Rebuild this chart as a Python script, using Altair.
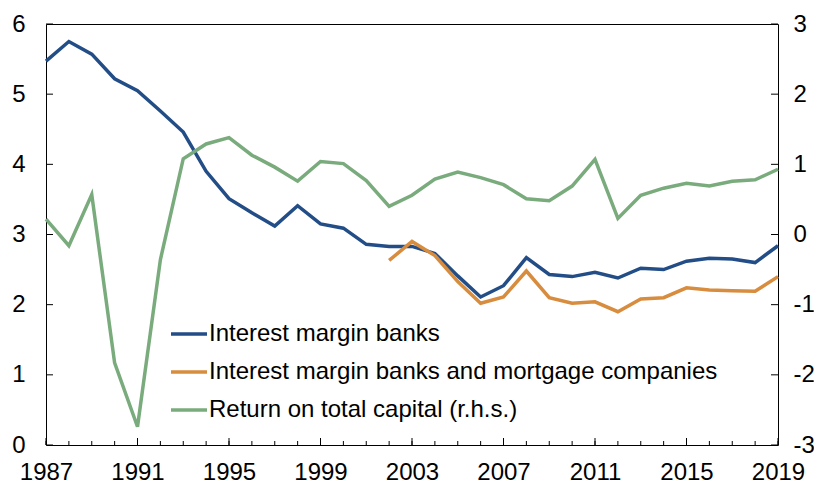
import altair as alt
import pandas as pd

years = list(range(1987, 2020))
names = [
    "Interest margin banks",
    "Interest margin banks and mortgage companies",
    "Return on total capital (r.h.s.)",
]
colors = ["#224d86", "#d88c3e", "#7aab7d"]

margin_banks = [5.47, 5.75, 5.57, 5.22, 5.05, 4.76, 4.46, 3.90, 3.51, 3.31, 3.12,
                3.41, 3.15, 3.09, 2.86, 2.83, 2.83, 2.73, 2.41, 2.11, 2.27, 2.67,
                2.43, 2.40, 2.46, 2.38, 2.52, 2.50, 2.62, 2.66, 2.65, 2.60, 2.84]
years_mortgage = list(range(2002, 2020))
margin_mortgage = [2.63, 2.90, 2.70, 2.33, 2.02, 2.11, 2.48, 2.10, 2.02, 2.04,
                   1.90, 2.08, 2.10, 2.24, 2.21, 2.20, 2.19, 2.40]
return_capital = [0.22, -0.16, 0.57, -1.83, -2.74, -0.36, 1.08, 1.29, 1.38, 1.13,
                  0.96, 0.76, 1.04, 1.01, 0.77, 0.40, 0.56, 0.79, 0.89, 0.81, 0.71,
                  0.51, 0.48, 0.69, 1.07, 0.23, 0.56, 0.66, 0.73, 0.69, 0.76, 0.78, 0.93]

x_labels = list(range(1987, 2020, 4))
left_ticks = [0, 1, 2, 3, 4, 5, 6]
right_ticks = [-3, -2, -1, 0, 1, 2, 3]

W, H = 732, 421
FONT = "Liberation Sans"

df_left = pd.concat([
    pd.DataFrame({"year": years, "value": margin_banks, "series": names[0]}),
    pd.DataFrame({"year": years_mortgage, "value": margin_mortgage, "series": names[1]}),
])
df_right = pd.DataFrame({"year": years, "value": return_capital, "series": names[2]})

xscale = alt.Scale(domain=[1987, 2019], nice=False, zero=False)
lscale = alt.Scale(domain=[0, 6], nice=False, zero=False)
rscale = alt.Scale(domain=[-3, 3], nice=False, zero=False)
cscale = alt.Scale(domain=names, range=colors)

xaxis = alt.Axis(values=x_labels, format="d", ticks=False, domain=False, grid=False,
                 labelFlush=False, labelOverlap=False, labelPadding=15, title=None)
laxis = alt.Axis(values=left_ticks, orient="left", ticks=False, domain=False, grid=False,
                 labelPadding=21, title=None, labelOverlap=False)
raxis = alt.Axis(values=right_ticks, orient="right", ticks=False, domain=False, grid=False,
                 labelPadding=15, title=None, labelOverlap=False,
                 labelExpr="datum.value < 0 ? '-' + abs(datum.value) : '' + datum.value")
legend = alt.Legend(
    title=None, orient="none", legendX=123, legendY=290,
    symbolType="stroke", symbolSize=1296, symbolStrokeWidth=3.5,
    labelFontSize=24, labelFont=FONT, labelColor="black", labelOffset=0,
    rowPadding=6, padding=0, labelLimit=0,
)

lines_left = alt.Chart(df_left).mark_line(strokeWidth=3.5).encode(
    x=alt.X("year:Q", scale=xscale, axis=xaxis),
    y=alt.Y("value:Q", scale=lscale, axis=laxis),
    color=alt.Color("series:N", scale=cscale, legend=legend),
)

lt = alt.Chart(pd.DataFrame({"value": left_ticks})).mark_rule(color="black", strokeWidth=1).encode(
    y=alt.Y("value:Q", scale=lscale, axis=laxis), x=alt.value(0), x2=alt.value(7))

xt_major = alt.Chart(pd.DataFrame({"year": x_labels})).mark_rule(color="black", strokeWidth=1).encode(
    x=alt.X("year:Q", scale=xscale, axis=xaxis), y=alt.value(H), y2=alt.value(H - 7))
xt_minor = alt.Chart(pd.DataFrame({"year": years})).mark_rule(color="black", strokeWidth=1).encode(
    x=alt.X("year:Q", scale=xscale, axis=xaxis), y=alt.value(H), y2=alt.value(H - 4))

left = alt.layer(lines_left, lt, xt_minor, xt_major)

line_right = alt.Chart(df_right).mark_line(strokeWidth=3.5).encode(
    x=alt.X("year:Q", scale=xscale, axis=xaxis),
    y=alt.Y("value:Q", scale=rscale, axis=raxis),
    color=alt.Color("series:N", scale=cscale, legend=legend),
)
rt = alt.Chart(pd.DataFrame({"value": right_ticks})).mark_rule(color="black", strokeWidth=1).encode(
    y=alt.Y("value:Q", scale=rscale, axis=raxis), x=alt.value(W - 7), x2=alt.value(W))

right = alt.layer(line_right, rt)

chart = alt.layer(left, right).resolve_scale(y="independent").properties(
    width=W, height=H,
    autosize=alt.AutoSizeParams(type="none"),
    padding={"left": 38, "top": 16, "right": 36, "bottom": 40},
    background="white",
).configure_view(stroke="black", strokeWidth=1).configure_axis(
    labelFont=FONT, labelFontSize=24, labelColor="black"
).configure_legend(labelFont=FONT)

chart.save("out.html", embed_options={"renderer": "svg", "actions": False})
